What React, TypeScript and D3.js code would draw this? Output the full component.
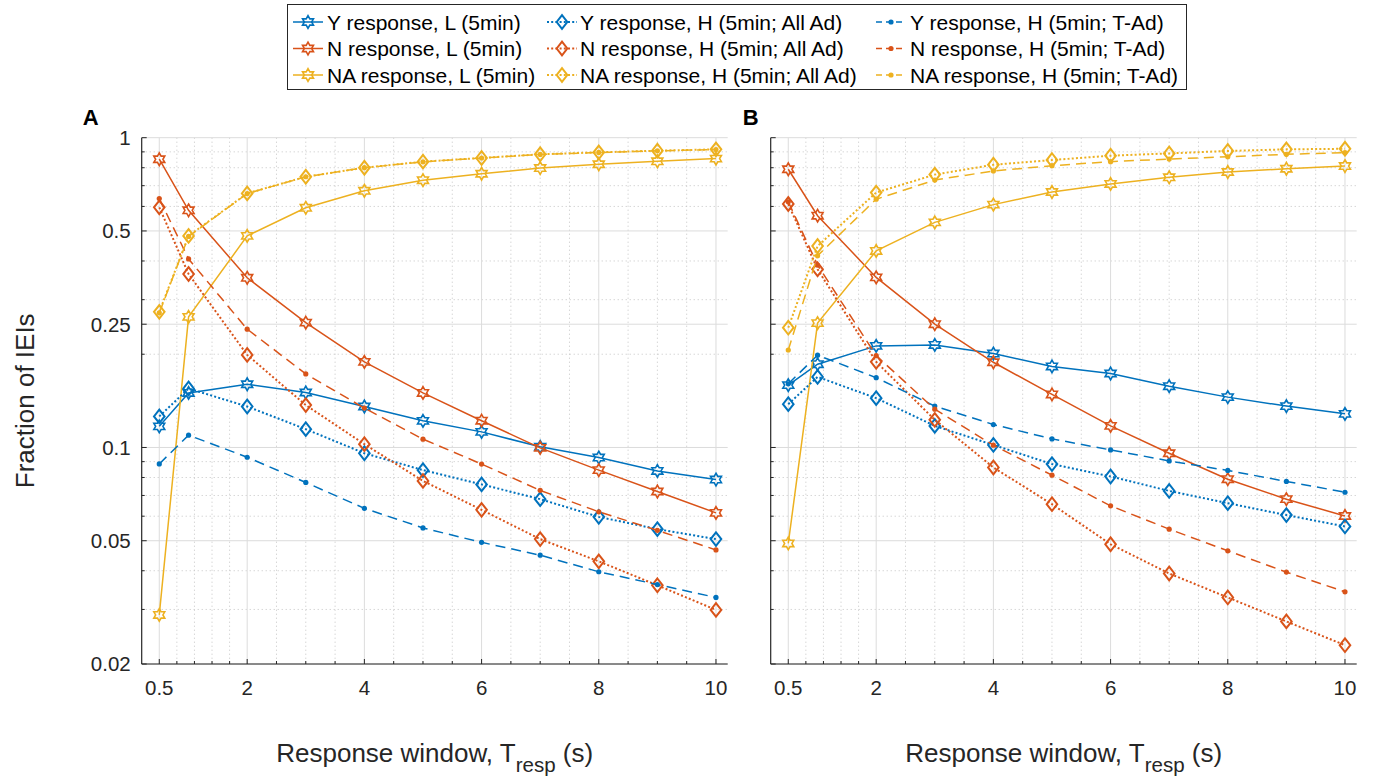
import React from 'react';
import * as d3 from 'd3';

// ---------- data ----------
const T = [0.5, 1, 2, 3, 4, 5, 6, 7, 8, 9, 10];
const xTicks = [0.5, 2, 4, 6, 8, 10];
const xMinorTicks = [0.8, 1.1, 1.4, 1.7, 2.5, 3, 3.5, 4.5, 5, 5.5, 6.5, 7, 7.5, 8.5, 9, 9.5];
const yTicks = [0.02, 0.05, 0.1, 0.25, 0.5, 1];
const yTickLabels = ['0.02', '0.05', '0.1', '0.25', '0.5', '1'];
const yMinorTicks = [0.03, 0.04, 0.06, 0.07, 0.08, 0.09, 0.2, 0.3, 0.4, 0.6, 0.7, 0.8, 0.9];

// Panel A
const aY_L = [0.117, 0.150, 0.160, 0.1505, 0.1356, 0.1219, 0.1123, 0.1005, 0.0928, 0.0840, 0.0788];
const aY_HAll = [0.126, 0.155, 0.1356, 0.1146, 0.0958, 0.0845, 0.0760, 0.0681, 0.0597, 0.0545, 0.0506];
const aY_HT = [0.0885, 0.1096, 0.0930, 0.0771, 0.0636, 0.0550, 0.0494, 0.0449, 0.0397, 0.0361, 0.0328];
const aN_L = [0.852, 0.583, 0.353, 0.253, 0.189, 0.150, 0.122, 0.0997, 0.0845, 0.0721, 0.0615];
const aN_HAll = [0.596, 0.363, 0.199, 0.137, 0.1025, 0.0780, 0.0629, 0.0506, 0.0429, 0.0359, 0.0299];
const aN_HT = [0.636, 0.406, 0.241, 0.1727, 0.134, 0.1064, 0.0884, 0.0727, 0.0620, 0.0540, 0.0467];
const aNA_L = [0.0288, 0.264, 0.482, 0.594, 0.674, 0.729, 0.765, 0.798, 0.821, 0.839, 0.856];
const aNA_HAll = [0.274, 0.482, 0.661, 0.748, 0.800, 0.837, 0.860, 0.884, 0.897, 0.908, 0.917];
const aNA_HT = [0.272, 0.480, 0.660, 0.748, 0.800, 0.836, 0.860, 0.883, 0.896, 0.907, 0.916];

// Panel B
const bY_L = [0.159, 0.1857, 0.2128, 0.2143, 0.201, 0.1826, 0.1733, 0.1577, 0.1454, 0.136, 0.1284];
const bY_HAll = [0.138, 0.169, 0.1443, 0.1174, 0.1019, 0.0884, 0.0806, 0.0724, 0.0661, 0.0605, 0.0556];
const bY_HT = [0.1605, 0.1986, 0.168, 0.136, 0.1186, 0.1066, 0.0982, 0.0905, 0.0843, 0.0777, 0.0717];
const bN_L = [0.791, 0.560, 0.354, 0.250, 0.1884, 0.1483, 0.1174, 0.0958, 0.0790, 0.0681, 0.0601];
const bN_HAll = [0.611, 0.376, 0.189, 0.1228, 0.0862, 0.0656, 0.0487, 0.0392, 0.0328, 0.02745, 0.0230];
const bN_HT = [0.621, 0.388, 0.198, 0.1329, 0.1017, 0.0814, 0.0648, 0.0545, 0.0464, 0.0396, 0.0342];
const bNA_L = [0.049, 0.252, 0.431, 0.533, 0.608, 0.668, 0.709, 0.745, 0.775, 0.794, 0.810];
const bNA_HAll = [0.2436, 0.447, 0.665, 0.760, 0.818, 0.847, 0.875, 0.890, 0.906, 0.917, 0.921];
const bNA_HT = [0.2064, 0.416, 0.633, 0.730, 0.781, 0.812, 0.837, 0.853, 0.868, 0.884, 0.895];

const legendLabels = [
  'Y response, L (5min)', 'N response, L (5min)', 'NA response, L (5min)',
  'Y response, H (5min; All Ad)', 'N response, H (5min; All Ad)', 'NA response, H (5min; All Ad)',
  'Y response, H (5min; T-Ad)', 'N response, H (5min; T-Ad)', 'NA response, H (5min; T-Ad)',
];

// ---------- styles ----------
const BLUE = '#0072BD';
const RED = '#D95319';
const YEL = '#EDB120';
const AX = '#262626';
const FONT = '"Liberation Sans", Arial, Helvetica, sans-serif';

type Style = { color: string; dash: string; width: number; marker: 'hex' | 'dia' | 'dot' };
const styleOf = (i: number): Style => {
  const color = [BLUE, RED, YEL][i % 3];
  const kind = Math.floor(i / 3);
  if (kind === 0) return { color, dash: 'none', width: 1.5, marker: 'hex' };
  if (kind === 1) return { color, dash: '2 2.2', width: 2, marker: 'dia' };
  return { color, dash: '10 6', width: 1.5, marker: 'dot' };
};

const panelA = [aY_L, aN_L, aNA_L, aY_HAll, aN_HAll, aNA_HAll, aY_HT, aN_HT, aNA_HT];
const panelB = [bY_L, bN_L, bNA_L, bY_HAll, bN_HAll, bNA_HAll, bY_HT, bN_HT, bNA_HT];

const TOP = 137.7;
const BOTTOM = 664;

function hexPath(R: number) {
  const r = R / Math.sqrt(3);
  const pts: string[] = [];
  for (let k = 0; k < 12; k++) {
    const a = (-90 + k * 30) * Math.PI / 180;
    const rr = k % 2 === 0 ? R : r;
    pts.push(`${(rr * Math.cos(a)).toFixed(2)},${(rr * Math.sin(a)).toFixed(2)}`);
  }
  return 'M' + pts.join('L') + 'Z';
}
const HEX = hexPath(6.3);
const DIA = 'M0,-6.8L5.3,0L0,6.8L-5.3,0Z';

function Marker({ x, y, s }: { x: number; y: number; s: Style }) {
  if (s.marker === 'hex')
    return <path d={HEX} transform={`translate(${x},${y})`} fill="none" stroke={s.color} strokeWidth={1.6} strokeLinejoin="miter" />;
  if (s.marker === 'dia')
    return <path d={DIA} transform={`translate(${x},${y})`} fill="none" stroke={s.color} strokeWidth={2} />;
  return <circle cx={x} cy={y} r={2.6} fill={s.color} />;
}

function Panel({ left, right, data, label, labelX, showY }: { left: number; right: number; data: number[][]; label: string; labelX: number; showY: boolean }) {
  const x = d3.scaleLinear().domain([0.2, 10.2]).range([left, right]);
  const y = d3.scaleLog().domain([0.02, 1]).range([BOTTOM, TOP]);
  const line = d3.line<number>().x((_, i) => x(T[i])).y((v) => y(v));
  const midX = (left + right) / 2;
  return (
    <g>
      {/* minor grid */}
      {xMinorTicks.map((t) => (
        <line key={'xm' + t} x1={x(t)} x2={x(t)} y1={TOP} y2={BOTTOM} stroke="#c4c4c4" strokeWidth={1} strokeDasharray="1 3" />
      ))}
      {yMinorTicks.map((t) => (
        <line key={'ym' + t} x1={left} x2={right} y1={y(t)} y2={y(t)} stroke="#c4c4c4" strokeWidth={1} strokeDasharray="1 3" />
      ))}
      {/* major grid */}
      {xTicks.map((t) => (
        <line key={'xg' + t} x1={x(t)} x2={x(t)} y1={TOP} y2={BOTTOM} stroke="#dcdcdc" strokeWidth={1} />
      ))}
      {yTicks.map((t) => (
        <line key={'yg' + t} x1={left} x2={right} y1={y(t)} y2={y(t)} stroke="#dcdcdc" strokeWidth={1} />
      ))}
      {/* axes */}
      <line x1={left} x2={left} y1={TOP} y2={BOTTOM} stroke={AX} strokeWidth={1.2} />
      <line x1={left} x2={right} y1={BOTTOM} y2={BOTTOM} stroke={AX} strokeWidth={1.2} />
      {xTicks.map((t) => (
        <line key={'xt' + t} x1={x(t)} x2={x(t)} y1={BOTTOM} y2={BOTTOM - 5} stroke={AX} strokeWidth={1} />
      ))}
      {xMinorTicks.map((t) => (
        <line key={'xmt' + t} x1={x(t)} x2={x(t)} y1={BOTTOM} y2={BOTTOM - 3} stroke={AX} strokeWidth={1} />
      ))}
      {yTicks.map((t) => (
        <line key={'yt' + t} x1={left} x2={left + 5} y1={y(t)} y2={y(t)} stroke={AX} strokeWidth={1} />
      ))}
      {yMinorTicks.map((t) => (
        <line key={'ymt' + t} x1={left} x2={left + 3} y1={y(t)} y2={y(t)} stroke={AX} strokeWidth={1} />
      ))}
      {xTicks.map((t) => (
        <text key={'xl' + t} x={x(t)} y={695} textAnchor="middle" fontSize={20.5} fill={AX} fontFamily={FONT}>{t}</text>
      ))}
      {showY && yTicks.map((t, i) => (
        <text key={'yl' + t} x={left - 11} y={y(t) + 7.3} textAnchor="end" fontSize={20.5} fill={AX} fontFamily={FONT}>{yTickLabels[i]}</text>
      ))}
      {/* series */}
      {data.map((vals, i) => {
        const s = styleOf(i);
        return (
          <g key={'s' + i}>
            <path d={line(vals) || ''} fill="none" stroke={s.color} strokeWidth={s.width} strokeDasharray={s.dash} />
            {vals.map((v, j) => <Marker key={j} x={x(T[j])} y={y(v)} s={s} />)}
          </g>
        );
      })}
      {/* x label */}
      <text x={midX} y={761.5} textAnchor="middle" fontSize={26} fill={AX} fontFamily={FONT}>
        Response window, T<tspan fontSize={20.5} dy={10}>resp</tspan><tspan dy={-10}> (s)</tspan>
      </text>
      {/* panel label */}
      <text x={labelX} y={125} fontSize={22} fontWeight="bold" fill="#000" fontFamily={FONT}>{label}</text>
    </g>
  );
}

function Legend() {
  const colX = [{ line: 293, text: 327 }, { line: 547, text: 580 }, { line: 876, text: 910 }];
  const rowY = [22, 48.5, 75];
  return (
    <g>
      <rect x={287.5} y={4.5} width={899} height={85} fill="#fff" stroke={AX} strokeWidth={1} />
      {legendLabels.map((lab, i) => {
        const c = Math.floor(i / 3);
        const r = i % 3;
        const s = styleOf(i);
        const x0 = colX[c].line;
        const yy = rowY[r];
        return (
          <g key={lab}>
            <line x1={x0} x2={x0 + 30} y1={yy} y2={yy} stroke={s.color} strokeWidth={s.width} strokeDasharray={s.dash === '10 6' ? '6 4' : s.dash} />
            <Marker x={x0 + 15} y={yy} s={s} />
            <text x={colX[c].text} y={yy + 7.5} fontSize={21} fill="#000" fontFamily={FONT}>{lab}</text>
          </g>
        );
      })}
    </g>
  );
}

export default function App() {
  return (
    <svg width={1375} height={779} style={{ position: 'absolute', left: 0, top: 0, background: '#fff' }}>
      <rect x={0} y={0} width={1375} height={779} fill="#fff" />
      <Panel left={141.7} right={727.7} data={panelA} label="A" labelX={82.7} showY={true} />
      <Panel left={770.7} right={1356.7} data={panelB} label="B" labelX={742.7} showY={false} />
      <text transform="translate(34,400.8) rotate(-90)" textAnchor="middle" fontSize={26} fill={AX} fontFamily={FONT}>Fraction of IEIs</text>
      <Legend />
    </svg>
  );
}
